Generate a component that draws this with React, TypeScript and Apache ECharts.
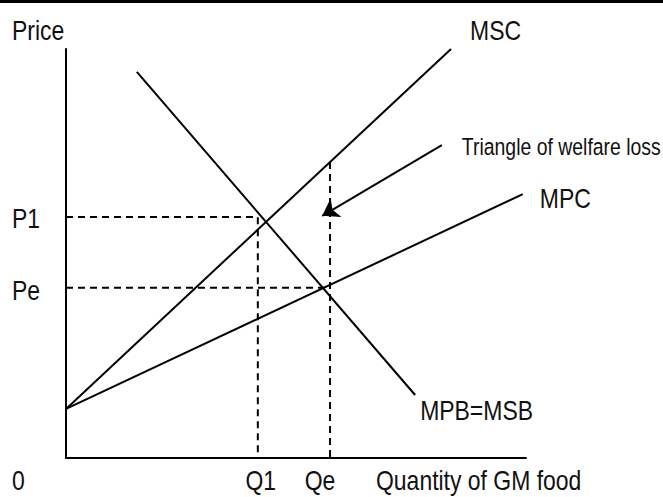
import React, { useEffect, useRef } from "react";
import * as echarts from "echarts";

// Data (economic units: quantity on x, price on y, both 0..100)
const mscLine: number[][] = [[0, 12], [83.7, 100]];
const mpcLine: number[][] = [[0, 12], [99.3, 64.5]];
const mpbLine: number[][] = [[15.4, 94.4], [75.9, 15.4]];
const q1 = 41.7;
const qe = 57.4;
const p1 = 58.9;
const pe = 41.6;
const qeTop = 72.35;
const arrowFrom: number[] = [81.7, 76.5];
const arrowTo: number[] = [55.7, 59.2];
const curveNames = ["MSC", "MPC", "MPB=MSB"];
const priceTicks = ["P1", "Pe"];
const qtyTicks = ["Q1", "Qe"];
const axisNames = ["Price", "Quantity of GM food", "0"];
const noteText = "Triangle of welfare loss";

const FONT = "'Liberation Sans', Arial, sans-serif";
const NARROW = 0.82;

export default function App() {
  const ref = useRef<HTMLDivElement>(null);
  useEffect(() => {
    if (!ref.current) return;
    const chart = echarts.init(ref.current, undefined, { renderer: "svg" });
    const solid = { color: "#000", width: 2 };
    const dashed = { color: "#000", width: 2, type: [7, 5] as any };
    const lineSeries = (data: number[][], style: any) => ({
      type: "line",
      data,
      symbol: "none",
      silent: true,
      lineStyle: style,
      clip: false,
    });
    chart.setOption({
      animation: false,
      grid: { left: 66, right: 137, top: 49, bottom: 39 },
      xAxis: {
        type: "value",
        min: 0,
        max: 100,
        axisLine: { show: true, lineStyle: { color: "#000", width: 2 } },
        axisTick: { show: false },
        axisLabel: { show: false },
        splitLine: { show: false },
      },
      yAxis: {
        type: "value",
        min: 0,
        max: 100,
        axisLine: { show: true, lineStyle: { color: "#000", width: 2 } },
        axisTick: { show: false },
        axisLabel: { show: false },
        splitLine: { show: false },
      },
      series: [
        lineSeries([[0, p1], [q1, p1], [q1, 0]], dashed),
        lineSeries([[0, pe], [qe, pe]], dashed),
        lineSeries([[qe, qeTop], [qe, 0]], dashed),
        lineSeries(mscLine, solid),
        lineSeries(mpcLine, solid),
        lineSeries(mpbLine, solid),
        {
          type: "lines",
          coordinateSystem: "cartesian2d",
          silent: true,
          symbol: ["none", "arrow"],
          symbolSize: 16,
          lineStyle: { color: "#000", width: 2, opacity: 1 },
          data: [{ coords: [arrowFrom, arrowTo] }],
        },
      ],
    });

    const toPx = (v: number[]) => chart.convertToPixel({ gridIndex: 0 }, v) as number[];
    const lab = (value: number[], text: string, align: string, offset: number[], size = 28) => {
      const p = toPx(value);
      return {
        type: "text",
        x: p[0] + offset[0],
        y: p[1] + offset[1],
        scaleX: NARROW,
        silent: true,
        style: {
          text,
          fill: "#111",
          fontSize: size,
          fontFamily: FONT,
          textAlign: align,
          textVerticalAlign: "middle",
        },
      };
    };
    const labels = [
      lab([0, 100], axisNames[0], "left", [-54, -19]),
      lab([0, 0], axisNames[2], "left", [-54, 22]),
      lab([100, 0], axisNames[1], "left", [-150, 22]),
      lab([0, p1], priceTicks[0], "left", [-54, 1]),
      lab([0, pe], priceTicks[1], "left", [-54, 2]),
      lab([q1, 0], qtyTicks[0], "center", [3, 22]),
      lab([qe, 0], qtyTicks[1], "center", [-10, 22]),
      lab(mscLine[1], curveNames[0], "left", [19, -19]),
      lab(mpcLine[1], curveNames[1], "left", [17, 4]),
      lab(mpbLine[1], curveNames[2], "left", [5, 15]),
      lab(arrowFrom, noteText, "left", [20, 2], 23.7),
    ];
    chart.setOption({
      graphic: [
        { type: "rect", left: 0, top: 0, shape: { width: 663, height: 3 }, style: { fill: "#000" } },
        ...labels,
      ],
    });
    return () => chart.dispose();
  }, []);
  return (
    <div
      ref={ref}
      style={{ position: "fixed", left: 0, top: 0, width: 663, height: 497, background: "#fff" }}
    />
  );
}
